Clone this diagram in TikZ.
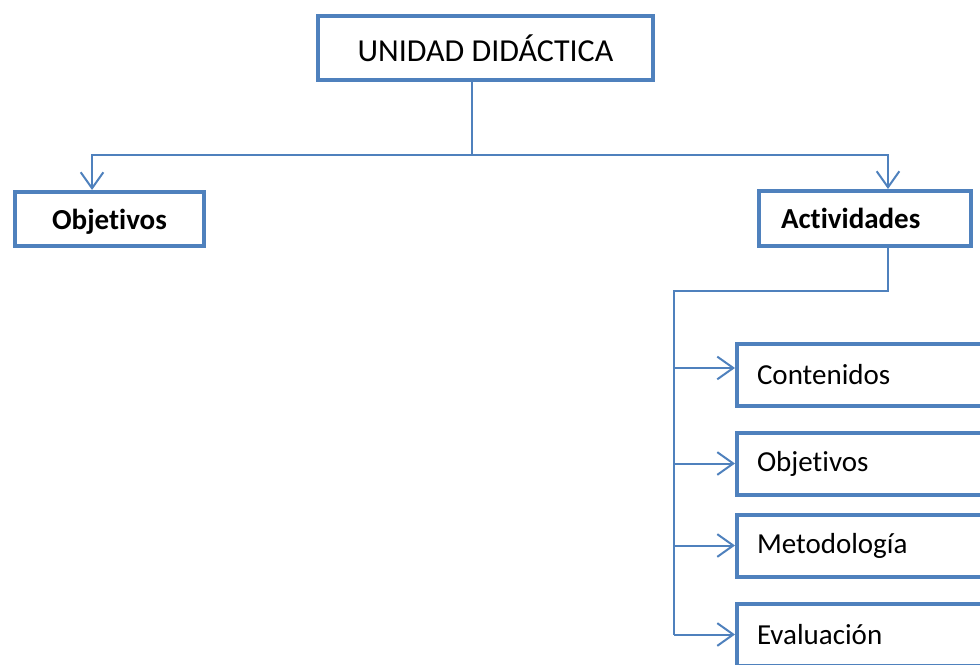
\documentclass[tikz,border=0pt]{standalone}
\usepackage{fontspec}
\setmainfont{Carlito}[Ligatures=NoCommon]
\usetikzlibrary{arrows.meta}
\definecolor{ofblue}{RGB}{79,129,189}
\newcommand\boxfont{\fontsize{21.75}{26}\selectfont}

\begin{document}
\begin{tikzpicture}[x=0.75pt, y=-0.75pt,
    main node/.style={draw=ofblue, line width=3pt, inner sep=0pt, font=\boxfont},
    item node/.style={main node, inner xsep=15pt, text width=167.25pt, align=left, minimum height=46.5pt},
    line/.style={draw=ofblue, line width=1.5pt},
    link/.style={line, -{Straight Barb[length=12pt,width=17pt]}},]

\path[use as bounding box, clip] (0,0) rectangle (980,664);

\node[main node, minimum width=251.25pt, minimum height=48pt, font=\fontsize{24}{28}\selectfont] (ud) at (485.5,48) {UNIDAD DIDÁCTICA};
\node[main node, minimum width=141.75pt, minimum height=40.5pt, text depth=0pt, font=\boxfont\bfseries] (obj) at (109.5,219) {Objetivos};
\node[main node, inner xsep=16.5pt, text width=126pt, align=left, minimum height=41.25pt, text depth=0pt, font=\boxfont\bfseries] (act) at (865,218.5) {Actividades};

\node[item node] (cont) at (868.5,374.5) {Contenidos};
\node[item node] (obj2) at (868.5,463.5) {Objetivos};
\node[item node] (met) at (868.5,545.5) {Metodología};
\node[item node] (eval) at (868.5,634.5) {Evaluación};

\coordinate (split) at (472,155);
\coordinate (bus) at (674,291);
\coordinate (cin) at ([yshift=4.9pt]cont.west);

\draw[line] (split |- ud.south) -- (split);
\draw[link] (split) -| ([xshift=-13.1pt]obj.north);
\draw[link] (split) -| ([xshift=17.25pt]act.north);

\draw[line] ([xshift=17.25pt]act.south) |- (bus) -- (bus |- eval.west);
\draw[link] (bus |- cin) -- (cin);
\foreach \n in {obj2, met, eval}
    \draw[link] (bus |- \n.west) -- (\n.west);

\end{tikzpicture}
\end{document}
